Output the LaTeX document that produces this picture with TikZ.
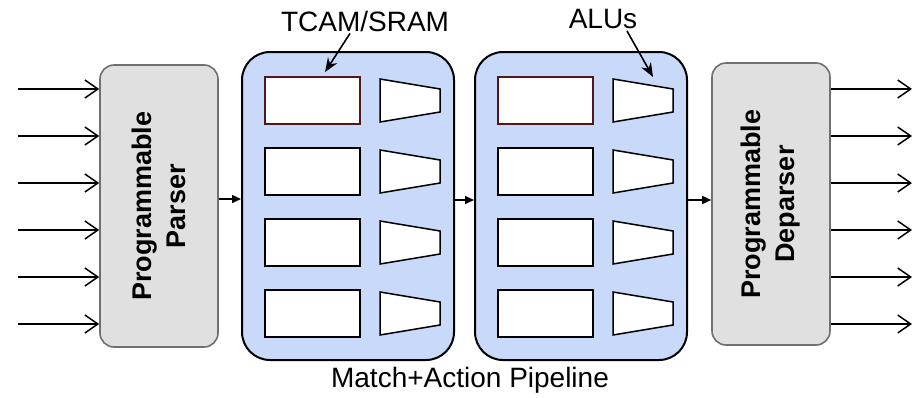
\documentclass[tikz,border=0pt]{standalone}
\usepackage{fontspec}
\setmainfont{Liberation Sans}
\usetikzlibrary{arrows.meta,positioning}

\definecolor{progfill}{RGB}{224,224,224}
\definecolor{progedge}{RGB}{112,112,112}
\definecolor{stagefill}{RGB}{201,217,250}
\definecolor{tablered}{RGB}{80,24,24}

\tikzset{
  progbox/.style={draw=progedge, fill=progfill, line width=1.6pt, rounded corners=14pt,
    minimum width=118pt, minimum height=282pt},
  progtext/.style={rotate=90, align=center, font=\fontsize{27}{34}\selectfont\bfseries},
  stagebox/.style={draw=black, fill=stagefill, line width=2pt, rounded corners=28pt,
    minimum width=212pt, minimum height=308pt},
  tablebox/.style={fill=white, line width=1.5pt, minimum width=95pt, minimum height=47pt},
  alubox/.style={draw=black, fill=white, line width=1.5pt, line join=miter},
  tagtext/.style={font=\fontsize{28}{32}\selectfont, inner sep=2pt},
  wire/.style={line width=1.5pt, -{Straight Barb[length=13pt,width=18pt,line width=1.5pt]}},
  link/.style={line width=1.5pt, -{Triangle[length=9pt,width=8pt]}},
  pointer/.style={line width=1.6pt, -{Stealth[length=14pt,width=11pt]}},
}

\begin{document}
\begin{tikzpicture}[x=1pt,y=-1pt]
\useasboundingbox (0,0) rectangle (914,397);

% parser and deparser
\node[progbox] (parser) at (159,206) {};
\node[progtext] (parsertext) at (parser.center) {Programmable\\Parser};
\node[progbox] (deparser) at (771,204) {};
\node[progtext] (deparsertext) at (deparser.center) {Programmable\\Deparser};

% the two match+action stages
\node[stagebox] (stageA) at (348,206) {};
\node[stagebox] (stageB) at (581,206) {};

\foreach \s/\x in {A/348,B/581} {
  \foreach \r/\c [count=\k] in {100.5/tablered,171.5/black,242.5/black,313.5/black} {
    \node[tablebox, draw=\c] (tab\s\k) at (\x-35.5,\r) {};
    \draw[alubox] (\x+32,\r-21.5) -- (\x+92,\r-11.5) -- (\x+92,\r+11.5) -- (\x+32,\r+21.5) -- cycle;
  }
}

% packet in / out
\foreach \k in {0,...,5} {
  \coordinate (in\k) at (18,89+47*\k);
  \draw[wire] (in\k) -- (in\k -| parser.west);
  \coordinate (out\k) at (912,89+47*\k);
  \draw[wire] (out\k -| deparser.east) -- (out\k);
}

\draw[link] (parser.east |- 0,199) -- (stageA.west |- 0,199);
\draw[link] (stageA.east |- 0,200) -- (stageB.west |- 0,200);
\draw[link] (stageB.east |- 0,200) -- (deparser.west |- 0,200);

% labels
\node[tagtext] (tcam) at (365,21) {TCAM/SRAM};
\coordinate (tcamtip) at (325,72);
\draw[pointer] ([xshift=-15pt]tcam.south) -- (tcamtip);

\node[tagtext] (alus) at (603,19) {ALUs};
\coordinate (alutip) at (653,77);
\draw[pointer] ([xshift=24pt]alus.south) -- (alutip);

\node[tagtext] (pipeline) at (470,380) {Match+Action Pipeline};

\end{tikzpicture}
\end{document}
